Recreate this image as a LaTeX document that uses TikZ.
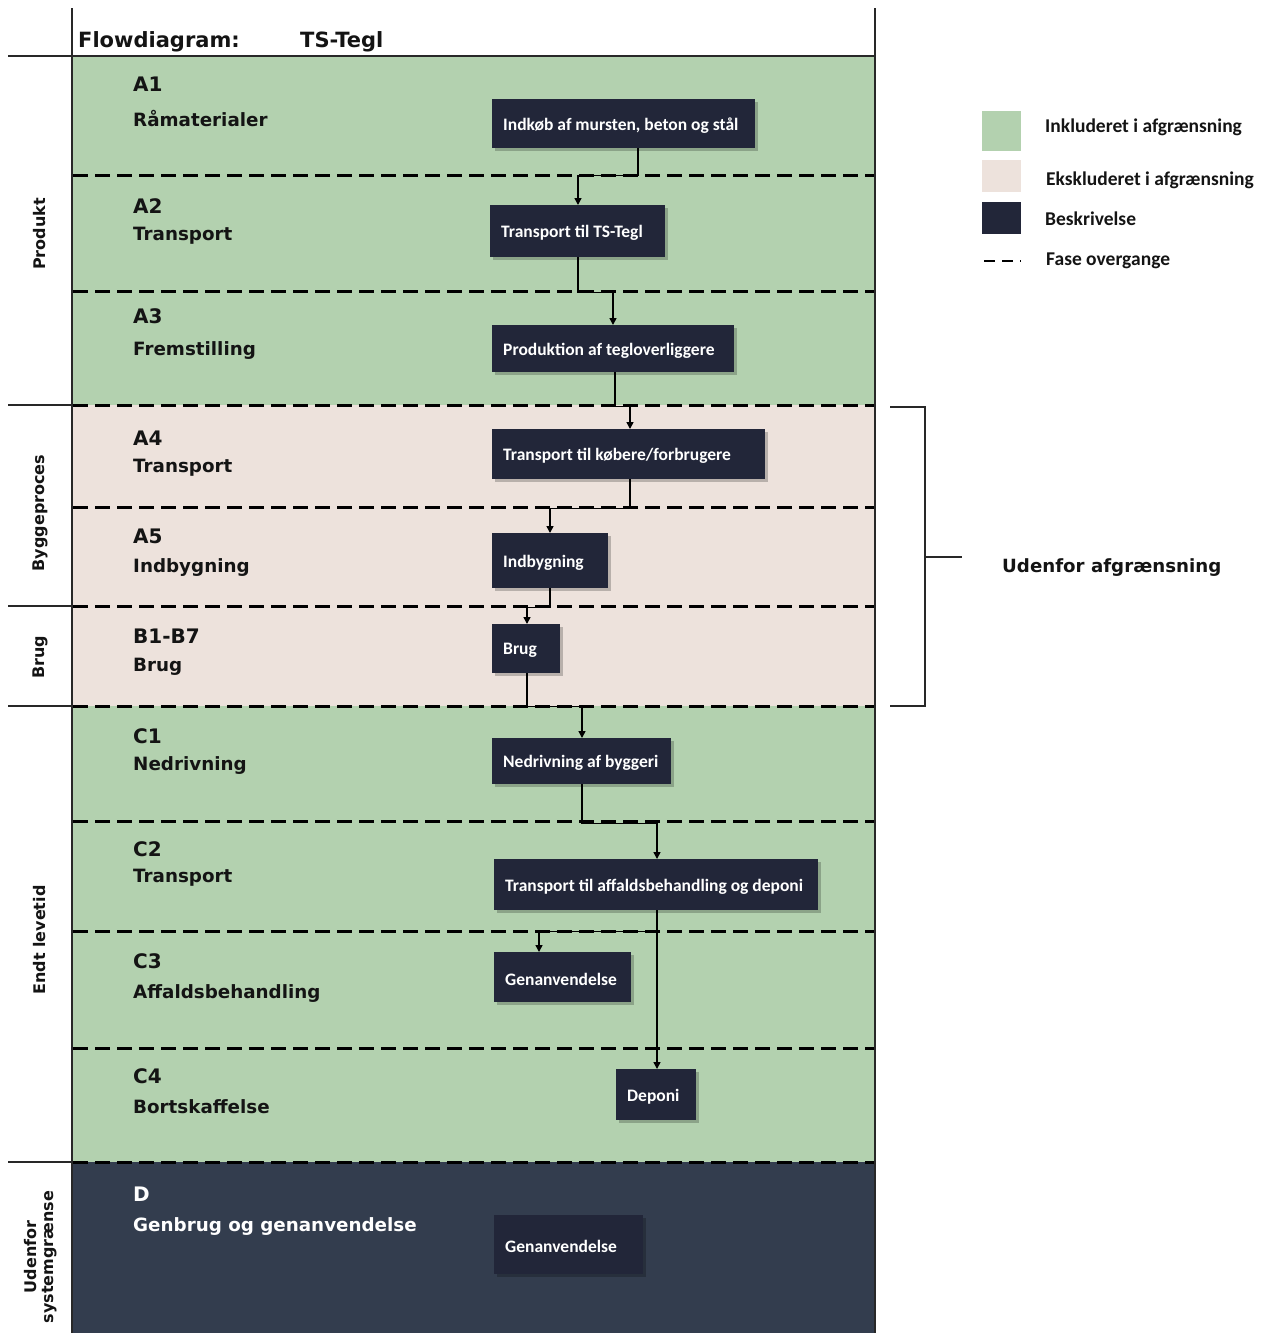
\documentclass[tikz,border=0pt]{standalone}
\usepackage{fontspec}
\setmainfont{Carlito}
\newfontfamily\dejav{DejaVu Sans}
\usetikzlibrary{shadows,arrows.meta,calc}
\definecolor{incl}{RGB}{179,209,175}
\definecolor{excl}{RGB}{237,226,220}
\definecolor{dband}{RGB}{51,61,78}
\definecolor{boxc}{RGB}{34,38,57}
\definecolor{framec}{RGB}{40,40,40}
\definecolor{txtc}{RGB}{20,20,20}
\newcommand{\bxt}[2]{\makebox[#1][l]{\raisebox{-2pt}[\height][\depth]{#2}}}
\tikzset{
 frameline/.style={draw=framec, line width=1.5pt},
 phase/.style={draw=black, line width=3pt, dash pattern=on 15pt off 7pt},
 fbox/.style={fill=boxc, text=white, font=\bfseries\fontsize{17.5}{20}\selectfont, inner xsep=11pt, inner ysep=0pt, anchor=north west,
   drop shadow={shadow xshift=3pt, shadow yshift=-3pt, opacity=0.22, fill=black}},
 secid/.style={anchor=base west, inner sep=0pt, text=txtc, font=\dejav\bfseries\fontsize{20}{22}\selectfont},
 secname/.style={anchor=base west, inner sep=0pt, text=txtc, font=\dejav\bfseries\fontsize{18.3}{22}\selectfont},
 vlab/.style={rotate=90, text=txtc, font=\dejav\bfseries\fontsize{16}{17}\selectfont, align=center, inner sep=0pt},
 arr/.style={draw=black, line width=1.5pt, -{Triangle[length=7pt,width=7pt]}},
 legtxt/.style={anchor=base west, inner sep=0pt, text=txtc, font=\bfseries\fontsize{19.5}{22}\selectfont}
}
\begin{document}
\begin{tikzpicture}[x=1pt,y=-1pt]
\useasboundingbox (0,0) rectangle (1269,1333);
% bands
\fill[incl] (72,56) rectangle (875,405);
\fill[excl] (72,405) rectangle (875,706);
\fill[incl] (72,706) rectangle (875,1162);
\fill[dband] (72,1162) rectangle (875,1333);
% phase lines
\foreach \yy in {175,291,405,507,606,706,821,931,1048,1162}
  \draw[phase] (73,\yy) -- (875,\yy);
% frame
\draw[frameline] (72,8) -- (72,1333);
\draw[frameline] (875,8) -- (875,1333);
\draw[frameline] (8,56) -- (875,56);
\foreach \yy in {405,606,706,1162}
  \draw[frameline] (8,\yy) -- (72,\yy);
% title
\node[anchor=base west, inner sep=0pt, text=txtc, font=\dejav\bfseries\fontsize{21}{24}\selectfont] (title) at (78,47) {Flowdiagram:};
\node[anchor=base west, inner sep=0pt, text=txtc, font=\dejav\bfseries\fontsize{21}{24}\selectfont] (tstegl) at (300,47) {TS-Tegl};
% left vertical labels
\node[vlab] (vprod) at (40,234) {Produkt};
\node[vlab] (vbyg) at (40,513) {Byggeproces};
\node[vlab] (vbrug) at (40,657) {Brug};
\node[vlab] (vendt) at (40,940) {Endt levetid};
\node[vlab] (vuden) at (41,1257) {Udenfor\\systemgrænse};
% section labels
\node[secid] (sa1) at (133,91) {A1};
\node[secname] (na1) at (133,126) {Råmaterialer};
\node[secid] (sa2) at (133,213) {A2};
\node[secname] (na2) at (133,240) {Transport};
\node[secid] (sa3) at (133,323) {A3};
\node[secname] (na3) at (133,355) {Fremstilling};
\node[secid] (sa4) at (133,445) {A4};
\node[secname] (na4) at (133,472) {Transport};
\node[secid] (sa5) at (133,543) {A5};
\node[secname] (na5) at (133,572) {Indbygning};
\node[secid] (sb) at (133,643) {B1-B7};
\node[secname] (nb) at (133,671) {Brug};
\node[secid] (sc1) at (133,743) {C1};
\node[secname] (nc1) at (133,770) {Nedrivning};
\node[secid] (sc2) at (133,856) {C2};
\node[secname] (nc2) at (133,882) {Transport};
\node[secid] (sc3) at (133,968) {C3};
\node[secname] (nc3) at (133,998) {Affaldsbehandling};
\node[secid] (sc4) at (133,1083) {C4};
\node[secname] (nc4) at (133,1113) {Bortskaffelse};
\node[secid, text=white] (sd) at (133,1201) {D};
\node[secname, text=white] (nd) at (133,1231) {Genbrug og genanvendelse};
% process boxes
\node[fbox, minimum height=49pt] (n1) at (492,99) {\bxt{241pt}{Indkøb af mursten, beton og stål}};
\node[fbox, minimum height=52pt] (n2) at (490,205) {\bxt{153pt}{Transport til TS-Tegl}};
\node[fbox, minimum height=47pt] (n3) at (492,325) {\bxt{220pt}{Produktion af tegloverliggere}};
\node[fbox, minimum height=50pt] (n4) at (492,429) {\bxt{251pt}{Transport til købere/forbrugere}};
\node[fbox, minimum height=55pt] (n5) at (492,533) {\bxt{94pt}{Indbygning}};
\node[fbox, minimum height=49pt] (n6) at (492,624) {\bxt{46pt}{Brug}};
\node[fbox, minimum height=46pt] (n7) at (492,738) {\bxt{157pt}{Nedrivning af byggeri}};
\node[fbox, minimum height=51pt] (n8) at (494,859) {\bxt{302pt}{Transport til affaldsbehandling og deponi}};
\node[fbox, minimum height=50pt] (n9) at (494,952) {\bxt{115pt}{Genanvendelse}};
\node[fbox, minimum height=51pt] (n10) at (616,1069) {\bxt{58pt}{Deponi}};
\node[fbox, minimum height=59pt] (n11) at (494,1215) {\bxt{127pt}{Genanvendelse}};
% connectors
\draw[arr] ([xshift=146pt]n1.south west) -- ++(0,27) -| ([xshift=88pt]n2.north west);
\draw[arr] ([xshift=88pt]n2.south west) -- ++(0,35) -| ([xshift=121pt]n3.north west);
\draw[arr] ([xshift=123pt]n3.south west) -- ++(0,34) -| ([xshift=138pt]n4.north west);
\draw[arr] ([xshift=138pt]n4.south west) -- ++(0,29) -| ([xshift=58pt]n5.north west);
\draw[arr] ([xshift=58pt]n5.south west) -- ++(0,19) -| ([xshift=35pt]n6.north west);
\draw[arr] ([xshift=35pt]n6.south west) -- ++(0,33) -| ([xshift=90pt]n7.north west);
\draw[arr] ([xshift=90pt]n7.south west) -- ++(0,39) -| ([xshift=163pt]n8.north west);
\draw[arr] ([xshift=163pt]n8.south west) -- ++(0,21) -| ([xshift=45pt]n9.north west);
\draw[arr] ([xshift=163pt]n8.south west) -- ([xshift=41pt]n10.north west);
% bracket
\draw[frameline, line width=1.3pt] (890,407) -- (925,407) -- (925,706) -- (890,706);
\draw[frameline, line width=1.3pt] (925,557) -- (962,557);
\node[anchor=base west, inner sep=0pt, text=txtc, font=\dejav\bfseries\fontsize{18.2}{22}\selectfont] (uden) at (1002,572) {Udenfor afgrænsning};
% legend
\fill[incl] (982,111) rectangle (1021,151);
\fill[excl] (982,160) rectangle (1021,192);
\fill[boxc] (982,202) rectangle (1021,234);
\draw[black, line width=2pt, dash pattern=on 11pt off 7pt] (984,261) -- (1021,261);
\node[legtxt] (l1) at (1045,132) {Inkluderet i afgrænsning};
\node[legtxt] (l2) at (1046,185) {Ekskluderet i afgrænsning};
\node[legtxt] (l3) at (1045,225) {Beskrivelse};
\node[legtxt] (l4) at (1046,265) {Fase overgange};
\end{tikzpicture}
\end{document}
